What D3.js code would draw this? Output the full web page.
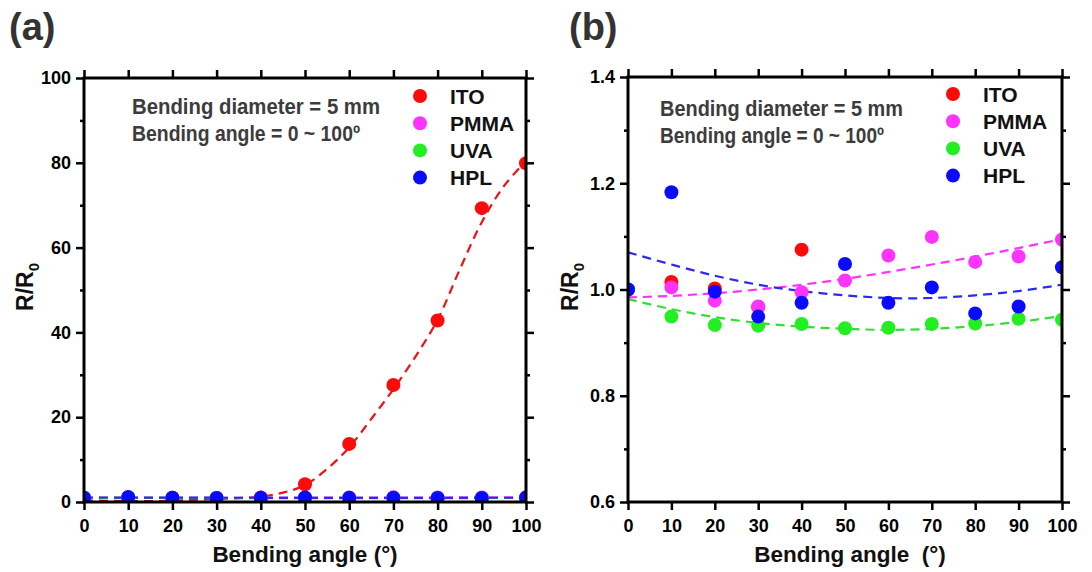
<!DOCTYPE html>
<html>
<head>
<meta charset="utf-8">
<script src="https://cdn.jsdelivr.net/npm/d3@7"></script>
<style>
  body { margin: 0; background: #fff; }
  svg { display: block; font-family: "Liberation Sans", Arial, sans-serif; font-weight: bold; }
</style>
</head>
<body>
<svg id="chart" width="1092" height="572"></svg>
<script>
// measured data, R/R0 vs bending angle
var angles = [0, 10, 20, 30, 40, 50, 60, 70, 80, 90, 100];
var ito  = [1.0, 1.014, 1.002, 0.967, 1.075, 4.2, 13.7, 27.6, 42.8, 69.3, 79.9];
var pmma = [1.0, 1.004, 0.979, 0.968, 0.995, 1.017, 1.064, 1.099, 1.052, 1.062, 1.094];
var uva  = [1.0, 0.949, 0.933, 0.932, 0.935, 0.927, 0.928, 0.935, 0.936, 0.945, 0.943];
var hpl  = [1.0, 1.183, 0.996, 0.949, 0.975, 1.048, 0.975, 1.004, 0.955, 0.968, 1.042];

// fitted (dashed) curves
var fitAnglesIto = [0, 5, 10, 15, 20, 25, 30, 35, 40, 45, 50, 55, 60, 65, 70, 75, 80, 85, 90, 95, 100];
var itoFit  = [0.4, 0.3, 0.2, 0.2, 0.3, 0.5, 0.7, 0.9, 1.3, 2.2, 4.0, 7.8, 12.9, 19.6, 26.6, 34.3, 43.0, 54.8, 66.0, 74.5, 80.4];
var pmmaFit = [0.985, 0.988, 0.993, 1.000, 1.009, 1.020, 1.033, 1.047, 1.062, 1.078, 1.095];
var uvaFit  = [0.982, 0.963, 0.948, 0.937, 0.930, 0.926, 0.924, 0.926, 0.931, 0.939, 0.950];
var hplFit  = [1.070, 1.047, 1.026, 1.009, 0.997, 0.989, 0.984, 0.984, 0.989, 0.997, 1.009];

var seriesNames = ["ITO", "PMMA", "UVA", "HPL"];
var colors = {ITO: "#ff0a0a", PMMA: "#ff33ff", UVA: "#22ee22", HPL: "#0a0aff"};
var fitColors = {ITO: "#ee1111", PMMA: "#ff33ff", UVA: "#33dd33", HPL: "#2a2af0"};

var xTicks = [0, 10, 20, 30, 40, 50, 60, 70, 80, 90, 100];
var yTicksA = [0, 20, 40, 60, 80, 100];
var yMinorA = [10, 30, 50, 70, 90];
var yTicksB = [0.6, 0.8, 1.0, 1.2, 1.4];
var yMinorB = [0.7, 0.9, 1.1, 1.3];

var svg = d3.select("#chart");

function drawPanel(p)
{
    var x = d3.scaleLinear().domain([0, 100]).range([p.left, p.right]);
    var y = d3.scaleLinear().domain(p.yDomain).range([p.bottom, p.top]);

    var clipId = "clip-" + p.label;
    svg.append("clipPath").attr("id", clipId)
        .append("rect")
        .attr("x", p.left).attr("y", p.top)
        .attr("width", p.right - p.left).attr("height", p.bottom - p.top);

    var g = svg.append("g");

    // panel letter
    g.append("text")
        .attr("x", p.labelX).attr("y", 40)
        .attr("font-size", 38)
        .attr("fill", "#333")
        .text("(" + p.label + ")");

    // data layer
    var plot = g.append("g").attr("clip-path", "url(#" + clipId + ")");

    var line = d3.line()
        .x(function (d) { return x(d[0]); })
        .y(function (d) { return y(d[1]); })
        .curve(d3.curveCatmullRom);

    p.fits.forEach(function (f)
    {
        plot.append("path")
            .datum(f.xs.map(function (a, i) { return [a, f.ys[i]]; }))
            .attr("d", line)
            .attr("fill", "none")
            .attr("stroke", fitColors[f.name])
            .attr("stroke-width", 2.2)
            .attr("stroke-dasharray", "9,6");
    });

    p.series.forEach(function (s)
    {
        plot.selectAll(null)
            .data(angles.map(function (a, i) { return [a, s.values[i]]; }))
            .enter()
            .append("circle")
            .attr("cx", function (d) { return x(d[0]); })
            .attr("cy", function (d) { return y(d[1]); })
            .attr("r", 7)
            .attr("fill", colors[s.name]);
    });

    // axes
    var axes = g.append("g");
    axes.append("g")
        .attr("transform", "translate(0," + p.bottom + ")")
        .call(d3.axisBottom(x).tickValues(xTicks).tickSize(8).tickPadding(9).tickSizeOuter(0));
    axes.append("g")
        .attr("transform", "translate(0," + p.top + ")")
        .call(d3.axisTop(x).tickValues(xTicks).tickSize(8).tickFormat("").tickSizeOuter(0));
    axes.append("g")
        .attr("transform", "translate(" + p.left + ",0)")
        .call(d3.axisLeft(y).tickValues(p.yTicks).tickSize(8).tickPadding(5)
            .tickFormat(p.yFormat).tickSizeOuter(0));
    axes.append("g")
        .attr("transform", "translate(" + p.left + ",0)")
        .call(d3.axisLeft(y).tickValues(p.yMinor).tickSize(4).tickFormat("").tickSizeOuter(0));
    axes.append("g")
        .attr("transform", "translate(" + p.right + ",0)")
        .call(d3.axisRight(y).tickValues(p.yTicks).tickSize(8).tickFormat("").tickSizeOuter(0));
    axes.append("g")
        .attr("transform", "translate(" + p.right + ",0)")
        .call(d3.axisRight(y).tickValues(p.yMinor).tickSize(4).tickFormat("").tickSizeOuter(0));

    axes.selectAll(".domain").remove();
    axes.selectAll(".tick line").attr("stroke", "#000").attr("stroke-width", 2.5);
    axes.selectAll(".tick text")
        .attr("fill", "#000")
        .attr("font-size", 18)
        .attr("font-family", "Liberation Sans, Arial, sans-serif")
        .attr("font-weight", "bold");

    g.append("rect")
        .attr("x", p.left).attr("y", p.top)
        .attr("width", p.right - p.left).attr("height", p.bottom - p.top)
        .attr("fill", "none")
        .attr("stroke", "#000")
        .attr("stroke-width", 3);

    // axis titles
    g.append("text")
        .attr("x", (p.left + p.right) / 2 + p.titleShift).attr("y", 562)
        .attr("text-anchor", "middle")
        .attr("font-size", 22.5)
        .attr("fill", "#111")
        .attr("xml:space", "preserve")
        .text(p.xTitle);

    var yt = g.append("text")
        .attr("transform", "translate(" + p.yTitleX + ",287) rotate(-90)")
        .attr("text-anchor", "middle")
        .attr("font-size", 23)
        .attr("fill", "#111");
    yt.append("tspan").text("R/R");
    yt.append("tspan").attr("font-size", 15).attr("dy", 6).text("0");

    // annotation
    var note = g.append("g").attr("fill", "#3c3c3c").attr("font-size", 22);
    note.append("text").attr("x", p.noteX).attr("y", p.noteY)
        .attr("textLength", p.noteW).attr("lengthAdjust", "spacingAndGlyphs")
        .text("Bending diameter = 5 mm");
    note.append("text").attr("x", p.noteX).attr("y", p.noteY + 27)
        .attr("textLength", p.noteW2).attr("lengthAdjust", "spacingAndGlyphs")
        .text("Bending angle = 0 ~ 100\u00ba");

    // legend
    var leg = g.append("g");
    seriesNames.forEach(function (name, i)
    {
        var ly = p.legendY + i * 27.2;
        leg.append("circle")
            .attr("cx", p.legendX).attr("cy", ly).attr("r", 7)
            .attr("fill", colors[name]);
        leg.append("text")
            .attr("x", p.legendX + 30).attr("y", ly + 7.5)
            .attr("font-size", 21)
            .attr("fill", "#111")
            .text(name);
    });
}

var allSeries = [
    {name: "ITO", values: ito},
    {name: "PMMA", values: pmma},
    {name: "UVA", values: uva},
    {name: "HPL", values: hpl}
];

drawPanel({
    label: "a", labelX: 9,
    left: 84, right: 526, top: 78, bottom: 502,
    yDomain: [0, 100], yTicks: yTicksA, yMinor: yMinorA,
    yFormat: d3.format("d"),
    xTitle: "Bending angle (\u00b0)", titleShift: 0, yTitleX: 33,
    noteX: 132, noteY: 114, noteW: 248, noteW2: 228,
    legendX: 420, legendY: 96,
    series: allSeries,
    fits: [
        {name: "ITO", xs: fitAnglesIto, ys: itoFit},
        {name: "PMMA", xs: angles, ys: pmmaFit},
        {name: "UVA", xs: angles, ys: uvaFit},
        {name: "HPL", xs: angles, ys: hplFit}
    ]
});

drawPanel({
    label: "b", labelX: 569,
    left: 628, right: 1062, top: 77, bottom: 502,
    yDomain: [0.6, 1.4], yTicks: yTicksB, yMinor: yMinorB,
    yFormat: d3.format(".1f"),
    xTitle: "Bending angle  (\u00b0)", titleShift: 5, yTitleX: 578,
    noteX: 660, noteY: 116, noteW: 243, noteW2: 224,
    legendX: 953, legendY: 94,
    series: allSeries,
    fits: [
        {name: "PMMA", xs: angles, ys: pmmaFit},
        {name: "UVA", xs: angles, ys: uvaFit},
        {name: "HPL", xs: angles, ys: hplFit}
    ]
});
</script>
</body>
</html>
